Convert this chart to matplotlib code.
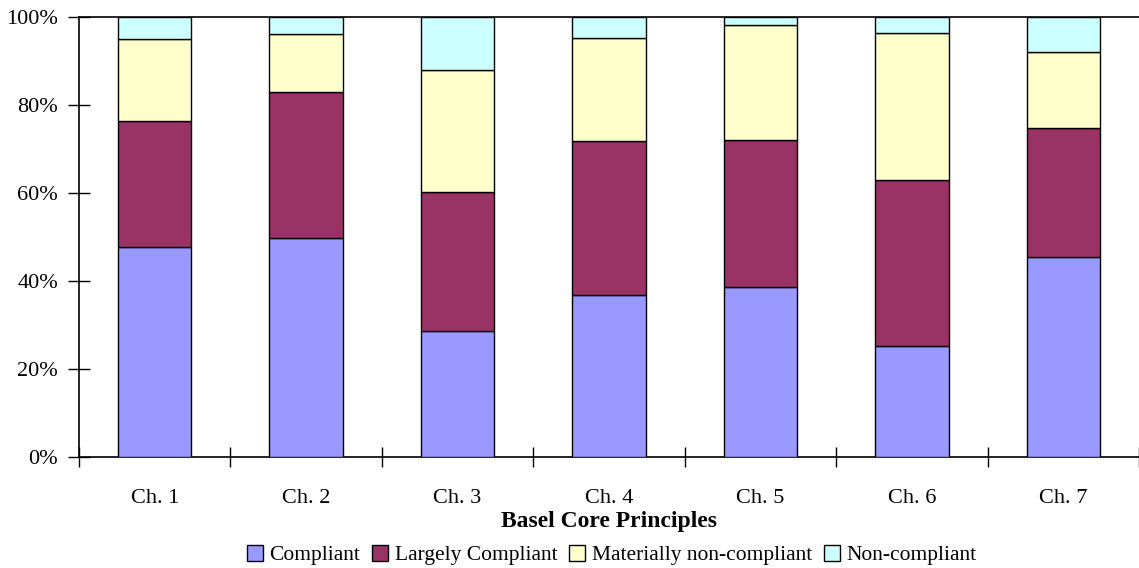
import matplotlib
matplotlib.use("Agg")
import matplotlib.pyplot as plt
import numpy as np
from matplotlib.ticker import FixedLocator, PercentFormatter

categories = ["Ch. 1", "Ch. 2", "Ch. 3", "Ch. 4", "Ch. 5", "Ch. 6", "Ch. 7"]
compliant = [47.7, 49.8, 28.7, 36.8, 38.6, 25.2, 45.5]
largely = [28.7, 33.3, 31.6, 35.1, 33.6, 37.9, 29.3]
materially = [18.6, 13.0, 27.7, 23.5, 26.1, 33.4, 17.4]
non_compliant = [5.0, 3.9, 12.0, 4.6, 1.7, 3.5, 7.8]

series_names = ["Compliant", "Largely Compliant", "Materially non-compliant", "Non-compliant"]
series = [compliant, largely, materially, non_compliant]
colors = ["#9999FF", "#993366", "#FFFFCC", "#CCFFFF"]

plt.rcParams['font.family'] = ['Liberation Serif', 'DejaVu Serif']

fig = plt.figure(figsize=(11.39, 5.68), dpi=100)
ax = fig.add_axes([0.0694, 0.1954, 0.9306, 0.7741])

x = np.arange(len(categories))
bottom = np.zeros(len(categories))
handles = []
for name, vals, col in zip(series_names, series, colors):
    b = ax.bar(x, vals, bottom=bottom, width=0.485, color=col,
               edgecolor='black', linewidth=1.0, label=name, zorder=3)
    handles.append(b)
    bottom += np.array(vals)

ax.set_xlim(-0.5, len(categories) - 0.5)
ax.set_ylim(0, 100)
ax.yaxis.set_major_locator(FixedLocator([0, 20, 40, 60, 80, 100]))
ax.yaxis.set_major_formatter(PercentFormatter(decimals=0))

ax.set_xticks(x)
ax.set_xticklabels(categories)
ax.set_xticks(np.arange(-0.5, len(categories), 1.0), minor=True)
ax.tick_params(axis='x', which='major', length=0, pad=23, labelsize=16)
ax.tick_params(axis='x', which='minor', length=14, direction='inout', width=1)
ax.tick_params(axis='y', which='major', length=16, direction='inout', width=1, labelsize=16, pad=7)

for s in ['left', 'bottom', 'top']:
    ax.spines[s].set_linewidth(1.2)
ax.spines['right'].set_visible(False)

ax.set_xlabel("Basel Core Principles", fontsize=17, fontweight='bold', labelpad=2)

fig.legend(handles=handles, labels=series_names, loc='center', bbox_to_anchor=(0.537, 0.023),
           ncol=4, frameon=False, fontsize=15.5, handlelength=0.75, handleheight=0.75,
           handletextpad=0.3, columnspacing=0.55, borderaxespad=0)

fig.savefig("out.png", dpi=100)
